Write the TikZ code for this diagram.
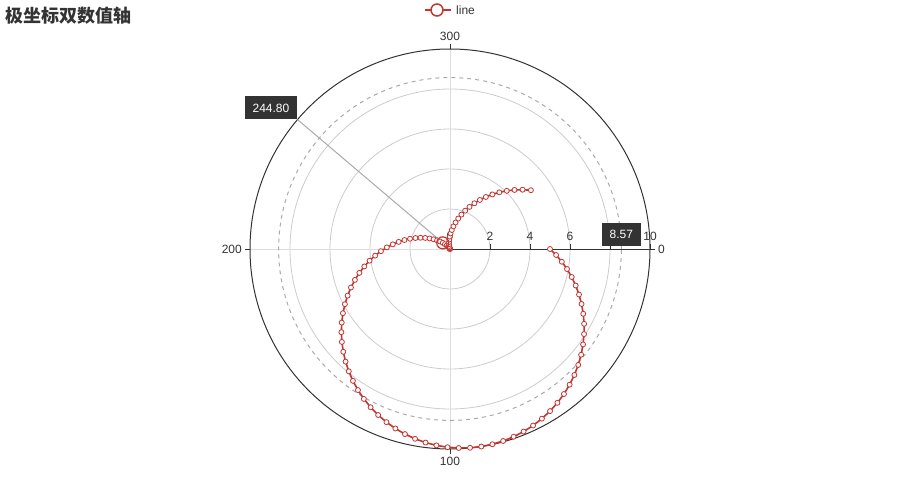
\documentclass[tikz,border=0pt]{standalone}
\usepackage{fontspec}
\setmainfont{Liberation Sans}
\newfontfamily\cjkfont{Noto Sans CJK SC}
\usepackage{xcolor}
\definecolor{lineRed}{HTML}{C23531}
\definecolor{axisDark}{HTML}{333333}
\definecolor{gridGray}{HTML}{CCCCCC}
\definecolor{splitGray}{HTML}{DDDDDD}
\definecolor{pointerGray}{HTML}{AAAAAA}
\usepackage{tikz}
\usetikzlibrary{positioning}
\tikzstyle{title} = [font={\cjkfont\bfseries\fontsize{18}{18}\selectfont}, text=axisDark, anchor=west, inner sep=0]
\tikzstyle{legendtext} = [font={\fontsize{12}{12}\selectfont}, text=axisDark, inner sep=0]
\tikzstyle{ticklabel} = [font={\fontsize{12}{12}\selectfont}, text=axisDark, inner sep=1pt]
\tikzstyle{tip} = [font={\fontsize{12}{12}\selectfont}, text=white, fill=axisDark,
        inner xsep=8pt, inner ysep=0pt, minimum height=23pt]
\tikzstyle{grid} = [draw=gridGray, line width=0.8pt]
\tikzstyle{split} = [draw=splitGray, line width=1pt]
\tikzstyle{axis} = [draw=axisDark, line width=1pt]
\tikzstyle{pointer} = [draw=pointerGray, line width=1pt]
\tikzstyle{seriesline} = [draw=lineRed, line width=1.6pt, line join=round]
\tikzstyle{datamark} = [circle, draw=lineRed, fill=white, line width=0.8pt, inner sep=0, minimum size=5pt]
\tikzstyle{legendmark} = [circle, draw=lineRed, fill=white, line width=1.5pt, inner sep=0, minimum size=12pt]
\tikzstyle{hovermark} = [circle, draw=lineRed, fill=none, line width=1.2pt, inner sep=0, minimum size=12pt]

\begin{document}
\begin{tikzpicture}[x=1pt, y=-1pt]
        \useasboundingbox (0,0) rectangle (900,500);
        \node [title] (title) at (5,15.5) {极坐标双数值轴};
        % legend
        \coordinate (legendA) at (425,10);
        \coordinate (legendB) at (451,10);
        \draw [seriesline, line width=1.3pt] (legendA) -- (legendB);
        \node [legendmark] (legendmark) at (437,10) {};
        \node [legendtext, right=5pt of legendB, anchor=west] (legendtext) {line};
        \begin{scope}[shift={(450,249)}]
            \coordinate (o) at (0,0);
            % grid
            \foreach \r in {40,80,120,160}
                \draw [grid] (o) circle [radius=\r pt];
            \foreach \a in {90,180,270}
                \draw [split] (o) -- (\a:200);
            \draw [pointer, dashed, dash pattern=on 4pt off 4pt] (o) circle [radius=171.4pt];
            \draw [axis] (o) circle [radius=200pt];
            % angle axis
            \foreach \a/\t/\anc in {0/0/west, 90/100/north, 180/200/east, 270/300/south} {
                \draw [axis] (\a:200) -- (\a:205);
                \node [ticklabel, anchor=\anc] (angle\t) at (\a:207) {\t};
            }
            % radius axis
            \draw [axis] (o) -- (0:200);
            \foreach \v [evaluate=\v as \n using int(2*\v)] in {0,...,5} {
                \draw [axis] (\v*40,0) -- (\v*40,-5);
                \node [ticklabel, anchor=south] (radius\n) at (\v*40,-7) {\n};
            }
            % axis pointer
            \coordinate (edge) at (220.32:200);
            \draw [pointer] (o) -- (edge);
            % series
            \draw [seriesline] plot [domain=0:360, samples=101] ({0.9*\x}:{100*(1+sin(\x))});
            \foreach \i in {0,...,100}
                \node [datamark] (p\i) at ({3.24*\i}:{100*(1+sin(3.6*\i))}) {};
            \node [hovermark] (hover) at (p68) {};
            % pointer labels
            \node [tip, anchor=south east] (anglelabel) at (edge) {244.80};
            \node [tip, anchor=south] (radiuslabel) at (171.4,-3) {8.57};
        \end{scope}
    \end{tikzpicture}
\end{document}
